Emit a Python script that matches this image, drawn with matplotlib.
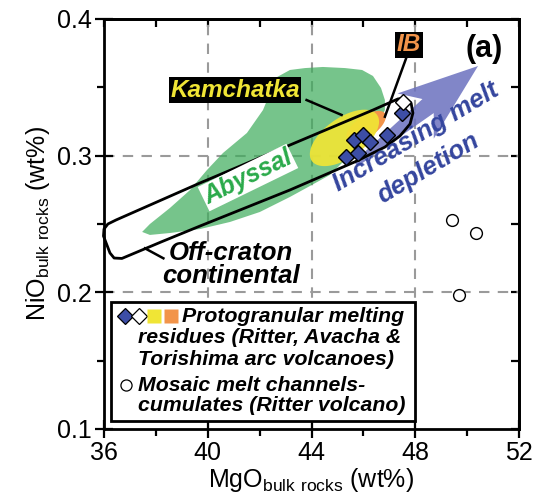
import numpy as np
import matplotlib
matplotlib.use("Agg")
import matplotlib.pyplot as plt
from matplotlib.patches import Polygon, Rectangle

plt.rcParams["font.family"] = ["Liberation Sans", "DejaVu Sans"]
plt.rcParams["mathtext.default"] = "regular"

# --- samples ---
proto_mgo = [45.33, 45.81, 45.64, 46.00, 46.24, 46.91, 47.48]
proto_nio = [0.2988, 0.3020, 0.3118, 0.3148, 0.3100, 0.3151, 0.3309]
proto_open_mgo = [47.54]
proto_open_nio = [0.3396]
mosaic_mgo = [49.40, 50.33, 49.70]
mosaic_nio = [0.2527, 0.2432, 0.1979]

# --- literature fields (MgO, NiO outlines) ---
abyssal_mgo = [37.47, 37.77, 38.54, 39.32, 39.97, 40.59, 41.51, 42.13, 42.40, 42.67,
               43.17, 43.75, 44.44, 45.29, 45.95, 46.37, 46.68, 46.83, 46.83, 46.56,
               45.95, 45.29, 44.71, 43.94, 43.17, 42.01, 40.86, 39.70, 38.54, 37.77]
abyssal_nio = [0.2442, 0.2500, 0.2617, 0.2749, 0.2895, 0.3020, 0.3166, 0.3334, 0.3458, 0.3575,
               0.3627, 0.3641, 0.3649, 0.3641, 0.3627, 0.3583, 0.3495, 0.3407, 0.3334, 0.3224,
               0.3100, 0.2968, 0.2859, 0.2778, 0.2698, 0.2588, 0.2515, 0.2463, 0.2434, 0.2420]

offcraton_mgo = [35.98, 36.00, 36.15, 36.46, 39.70, 43.17, 46.37, 47.33, 47.60, 47.84, 47.91,
                 47.80, 47.41, 46.83, 45.75, 43.17, 39.70, 38.22, 36.69, 36.39, 36.23]
offcraton_nio = [0.2412, 0.2463, 0.2500, 0.2529, 0.2800, 0.3078, 0.3334, 0.3415, 0.3422, 0.3385,
                 0.3312, 0.3232, 0.3144, 0.3063, 0.2961, 0.2749, 0.2485, 0.2370, 0.2248, 0.2251,
                 0.2288]

# ellipses: centre, semi-axis vectors (MgO, NiO)
kam_centre = (45.27, 0.3130)
kam_a = (1.26, 0.0168)
kam_b = (-0.44, 0.0120)
ib_centre = (46.10, 0.3212)
ib_a = (0.73, 0.0097)
ib_b = (-0.23, 0.0063)

grid_x = [40, 44, 48]
grid_y = [0.2, 0.3]
xticks = [36, 40, 44, 48, 52]
xminor = [38, 42, 46, 50]
yticks = [0.1, 0.2, 0.3, 0.4]
yminor = [0.15, 0.25, 0.35]

green = "#3cac5a"
yellow = "#f0e535"
orange = "#f2944a"
diamond_blue = "#3d4ea6"
arrow_blue = "#6b71bf"
text_blue = "#34459e"


def ellipse(centre, a, b, n=120):
    t = np.linspace(0, 2 * np.pi, n)
    x = centre[0] + np.cos(t) * a[0] + np.sin(t) * b[0]
    y = centre[1] + np.cos(t) * a[1] + np.sin(t) * b[1]
    return np.column_stack([x, y])


def arrow_poly(ax, tail, tip, w_tail, w_head, head_len, head_half):
    # built in display pixels so the arrow keeps its shape, then mapped back to data
    p0 = ax.transData.transform(tail)
    p1 = ax.transData.transform(tip)
    u = (p1 - p0) / np.hypot(*(p1 - p0))
    n = np.array([-u[1], u[0]])
    base = p1 - u * head_len
    join = p1 - u * head_len * 0.8
    pts = [p0 + n * w_tail / 2, join + n * w_head / 2, base + n * head_half, p1,
           base - n * head_half, join - n * w_head / 2, p0 - n * w_tail / 2]
    return ax.transData.inverted().transform(np.array(pts))


fig = plt.figure(figsize=(5.37, 5.03), dpi=100)
ax = fig.add_axes([104 / 537, 1 - 429 / 503, 415 / 537, 410 / 503])
ax.set_xlim(36, 52)
ax.set_ylim(0.1, 0.4)

for gx in grid_x:
    ax.axvline(gx, color="#9a9a9a", lw=1.5, ls=(0, (5, 4)), zorder=0.5)
for gy in grid_y:
    ax.axhline(gy, color="#9a9a9a", lw=1.5, ls=(0, (5, 4)), zorder=0.5)

ax.add_patch(Polygon(np.column_stack([abyssal_mgo, abyssal_nio]), closed=True,
                     facecolor=green, alpha=0.7, edgecolor="none", zorder=1))
ax.add_patch(Polygon(ellipse(ib_centre, ib_a, ib_b), closed=True,
                     facecolor=orange, edgecolor="none", zorder=2))
ax.add_patch(Polygon(ellipse(kam_centre, kam_a, kam_b), closed=True,
                     facecolor=yellow, alpha=0.92, edgecolor="none", zorder=2.1))

ax.add_patch(Polygon(arrow_poly(ax, (45.71, 0.2939), (50.42, 0.3656), 6, 18, 80, 29),
                     closed=True, facecolor=arrow_blue, alpha=0.85, edgecolor="none",
                     zorder=3))

ax.add_patch(Polygon(np.column_stack([offcraton_mgo, offcraton_nio]), closed=True,
                     facecolor="none", edgecolor="black", lw=2, joinstyle="round",
                     zorder=4, clip_on=False))

# leader lines
ax.plot([43.81, 45.16], [0.3407, 0.3298], color="black", lw=1.8, zorder=4)
ax.plot([47.67, 46.83], [0.3724, 0.3285], color="black", lw=1.8, zorder=4)
ax.plot([37.58, 38.29], [0.2322, 0.2249], color="black", lw=1.8, zorder=4)

ax.plot(proto_mgo, proto_nio, "D", ms=8.5, mfc=diamond_blue, mec="black", mew=1, zorder=5)
ax.plot(proto_open_mgo, proto_open_nio, "D", ms=8.5, mfc="white", mec="black", mew=1,
        zorder=5)
ax.plot(mosaic_mgo, mosaic_nio, "o", ms=8.5, mfc="white", mec="black", mew=1, zorder=5)

bi = dict(fontweight="bold", fontstyle="italic")
ax.text(41.05, 0.348, "Kamchatka", color=yellow, fontsize=17.5, ha="center", va="center",
        bbox=dict(facecolor="black", edgecolor="none", pad=1.0), zorder=7, **bi)
ax.text(47.76, 0.381, "IB", color=orange, fontsize=17.5, ha="center", va="center",
        bbox=dict(facecolor="black", edgecolor="none", pad=1.0), zorder=7, **bi)
ax.text(41.55, 0.2840, "Abyssal", color="#2aaa4a", fontsize=18, ha="center", va="center",
        rotation=26, rotation_mode="anchor",
        bbox=dict(facecolor="white", edgecolor="none", pad=1.0), zorder=7, **bi)
ax.text(40.90, 0.2205, "Off-craton\ncontinental", color="black", fontsize=18.5,
        ha="center", va="center", linespacing=0.95, zorder=7, **bi)
ax.text(48.02, 0.3140, "Increasing melt", color=text_blue, fontsize=18.5, ha="center",
        va="center", rotation=31, rotation_mode="anchor", zorder=7, **bi)
ax.text(48.50, 0.2910, "depletion", color=text_blue, fontsize=18.5, ha="center",
        va="center", rotation=31, rotation_mode="anchor", zorder=7, **bi)
ax.text(0.916, 0.926, "(a)", transform=ax.transAxes, fontsize=22, fontweight="bold",
        ha="center", va="center", zorder=7)

# legend box
ax.add_patch(Rectangle((0.016, 0.02), 0.733, 0.29, transform=ax.transAxes,
                       facecolor="white", edgecolor="black", lw=2, zorder=6))
kw = dict(transform=ax.transAxes, clip_on=False, zorder=7, mec="black", mew=0.9)
ax.plot([0.0506], [0.2744], "D", ms=8, mfc=diamond_blue, **kw)
ax.plot([0.0843], [0.2744], "D", ms=8, mfc="white", **kw)
ax.plot([0.1205], [0.2744], "s", ms=10, mfc=yellow, mec="none", transform=ax.transAxes,
        zorder=7)
ax.plot([0.1614], [0.2744], "s", ms=10, mfc=orange, mec="none", transform=ax.transAxes,
        zorder=7)
ax.plot([0.053], [0.1073], "o", ms=8, mfc="white", **kw)
legend_lines = [
    (0.188, 0.2744, "Protogranular melting"),
    (0.082, 0.222, "residues (Ritter, Avacha &"),
    (0.082, 0.1707, "Torishima arc volcanoes)"),
    (0.082, 0.1073, "Mosaic melt channels-"),
    (0.082, 0.0585, "cumulates (Ritter volcano)"),
]
for lx, ly, s in legend_lines:
    ax.text(lx, ly, s, transform=ax.transAxes, fontsize=15.3, ha="left", va="center",
            zorder=7, **bi)

# axes, ticks
for sp in ax.spines.values():
    sp.set_linewidth(2)
ax.set_xticks(xticks)
ax.set_xticks(xminor, minor=True)
ax.set_yticks(yticks)
ax.set_yticks(yminor, minor=True)
ax.set_yticklabels([f"{v:.1f}" for v in yticks])
ax.tick_params(which="major", direction="inout", length=13, width=1.6, labelsize=18,
               top=False, right=False, pad=2)
ax.tick_params(which="minor", direction="out", length=5, width=1.6, top=False, right=False)

top = ax.secondary_xaxis("top")
top.set_xticks(xticks)
top.set_xticks(xminor, minor=True)
top.tick_params(which="both", direction="in", length=6, width=1.6, labeltop=False)
top.spines["top"].set_linewidth(2)
right = ax.secondary_yaxis("right")
right.set_yticks(yticks)
right.set_yticks(yminor, minor=True)
right.tick_params(which="both", direction="in", length=6, width=1.6, labelright=False)
right.spines["right"].set_linewidth(2)

ax.set_xlabel(r"MgO$_{bulk\ rocks}$ (wt%)", fontsize=18, labelpad=1)
ax.set_ylabel(r"NiO$_{bulk\ rocks}$ (wt%)", fontsize=18, labelpad=4)

fig.savefig("out.png", dpi=100)
